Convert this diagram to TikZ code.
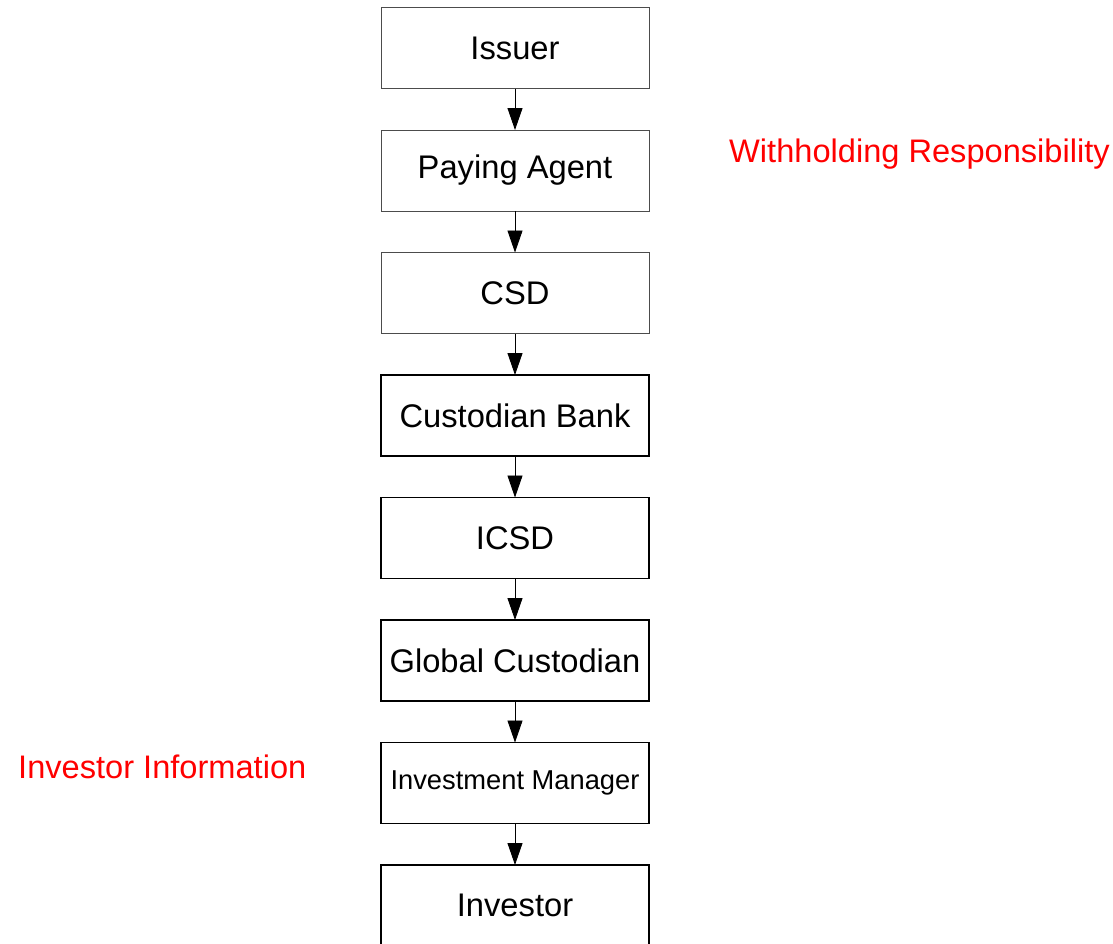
\documentclass[tikz,border=0pt]{standalone}
\usepackage{fontspec}
\setmainfont{Liberation Sans}
\usetikzlibrary{arrows.meta, positioning}

\begin{document}
\begin{tikzpicture}[x=1pt, y=-1pt,
  node distance=41.5pt,
  box/.style={draw=black, line width=1.8pt, minimum width=268pt, minimum height=81pt,
    inner sep=0pt, outer sep=0pt, font=\fontsize{32.7}{36}\selectfont},
  thinbox/.style={box, draw=black!70, line width=0.9pt},
  flow/.style={-{Triangle[length=22pt, width=15pt]}, line width=0.9pt},
  note/.style={text=red, font=\fontsize{32.6}{36}\selectfont, inner sep=0pt}]
\useasboundingbox (0,0) rectangle (1113,943);

\node[thinbox] (issuer) at (515,48) {Issuer};
\node[thinbox, below=of issuer] (paying) {Paying Agent};
\node[thinbox, below=of paying] (csd) {CSD};
\node[box, below=of csd] (custbank) {Custodian Bank};
\node[box, below=of custbank] (icsd) {ICSD};
\node[box, below=of icsd] (global) {Global Custodian};
\node[box, below=of global, font=\fontsize{27.3}{30}\selectfont] (manager) {Investment Manager};
\node[box, below=of manager] (investor) {Investor};

\foreach \a/\b in {issuer/paying, paying/csd, csd/custbank, custbank/icsd,
                   icsd/global, global/manager, manager/investor}
  \draw[flow] (\a) -- (\b);

\node[note, anchor=west] (withhold) at (729,154) {Withholding Responsibility};
\node[note, anchor=west] (invinfo) at (18,767) {Investor Information};
\end{tikzpicture}
\end{document}
